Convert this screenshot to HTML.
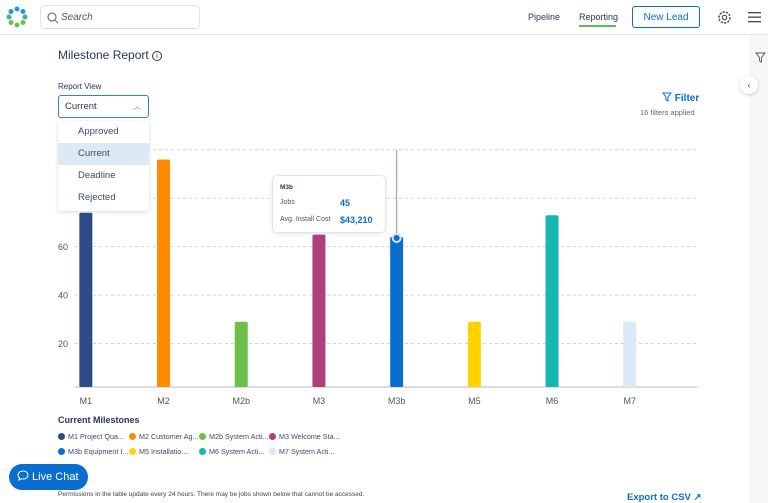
<!DOCTYPE html>
<html><head><meta charset="utf-8">
<style>
*{box-sizing:border-box;margin:0;padding:0}
body{width:768px;height:503px;overflow:hidden;background:#fff;font-family:"Liberation Sans",sans-serif;color:#2b3553;position:relative}
.abs{position:absolute}
.hdr{left:0;top:0;width:768px;height:35px;border-bottom:1px solid #e6e8ec;background:#fff}
.side{left:749px;top:35px;width:19px;height:468px;background:#f7f7f8}
</style></head><body>
<div class="abs hdr">
  <svg class="abs" style="left:6px;top:6px" width="22" height="22">
    <g>
      <circle cx="11" cy="3" r="2.5" fill="#1e9bd7"/><circle cx="17" cy="5.5" r="2.5" fill="#1e9bd7"/>
      <circle cx="19" cy="11" r="2.5" fill="#3fb38f"/><circle cx="17" cy="16.5" r="2.5" fill="#6cc04a"/>
      <circle cx="11" cy="19" r="2.5" fill="#6cc04a"/><circle cx="5" cy="16.5" r="2.5" fill="#6cc04a"/>
      <circle cx="3" cy="11" r="2.5" fill="#3fb38f"/><circle cx="5" cy="5.5" r="2.5" fill="#1e9bd7"/>
    </g>
  </svg>
  <div class="abs" style="left:40px;top:5px;width:160px;height:24px;border:1px solid #dfe2e6;border-radius:5px">
    <svg class="abs" style="left:6px;top:6px" width="12" height="12"><circle cx="5" cy="5" r="4" fill="none" stroke="#777" stroke-width="1.2"/><line x1="8" y1="8" x2="11" y2="11" stroke="#777" stroke-width="1.2"/></svg>
    <span class="abs" style="left:20px;top:6px;font-size:10px;color:#555;font-style:italic">Search</span>
  </div>
  <span class="abs" style="left:528px;top:12px;font-size:9px;color:#2b3553">Pipeline</span>
  <span class="abs" style="left:579px;top:12px;font-size:9px;color:#2b3553">Reporting</span>
  <div class="abs" style="left:579px;top:25px;width:37px;height:2px;background:#5cb85c"></div>
  <div class="abs" style="left:632px;top:6px;width:68px;height:22px;border:1.5px solid #0a6fcc;border-radius:3px;color:#0a6fcc;font-size:10px;display:flex;align-items:center;justify-content:center">New Lead</div>
  <svg class="abs" style="left:717px;top:10px" width="15" height="15"><circle cx="7.5" cy="7.5" r="5.5" fill="none" stroke="#444" stroke-width="1.4" stroke-dasharray="2.2 1.2"/><circle cx="7.5" cy="7.5" r="2.2" fill="none" stroke="#444" stroke-width="1.1"/></svg>
  <svg class="abs" style="left:748px;top:11px" width="13" height="12"><rect y="1" width="13" height="1.3" fill="#444"/><rect y="5.5" width="13" height="1.3" fill="#444"/><rect y="10" width="13" height="1.3" fill="#444"/></svg>
</div>
<div class="abs side"></div>
<svg class="abs" style="left:755px;top:52px" width="11" height="11"><path d="M1 1h9L6.5 5.5V10L4.5 9V5.5Z" fill="none" stroke="#555" stroke-width="0.9"/></svg>
<div class="abs" style="left:740px;top:76px;width:18px;height:18px;border-radius:50%;background:#fff;box-shadow:0 1px 3px rgba(0,0,0,.2);font-size:9px;text-align:center;line-height:18px;color:#555">‹</div>

<div class="abs" style="left:58px;top:48px;font-size:12px;color:#2b3553">Milestone Report <span style="display:inline-block;width:10px;height:10px;border:1px solid #2b3553;border-radius:50%;font-size:7px;text-align:center;line-height:9px;vertical-align:1px">i</span></div>
<div class="abs" style="left:58px;top:82px;font-size:8px;color:#2b3553">Report View</div>
<div class="abs" style="left:58px;top:95px;width:91px;height:23px;border:1px solid #3a80c9;border-radius:3px;font-size:9.5px;line-height:21px;padding-left:6px;color:#2b3553">Current<span class="abs" style="right:7px;top:0;font-size:8px;color:#888">︿</span></div>
<div class="abs" style="left:58px;top:121px;width:91px;height:90px;background:#fff;box-shadow:0 1px 4px rgba(0,0,0,.15);border-radius:3px;z-index:5">
  <div style="height:22px;line-height:22px;padding-left:20px;font-size:9.5px;color:#3d4a6b">Approved</div>
  <div style="height:22px;line-height:22px;padding-left:20px;font-size:9.5px;color:#3d4a6b;background:#dbeaf5">Current</div>
  <div style="height:22px;line-height:22px;padding-left:20px;font-size:9.5px;color:#3d4a6b">Deadline</div>
  <div style="height:22px;line-height:22px;padding-left:20px;font-size:9.5px;color:#3d4a6b">Rejected</div>
</div>
<div class="abs" style="left:662px;top:92px;font-size:10px;color:#0a6fcc;font-weight:bold"><svg width="10" height="10" style="vertical-align:-1px"><path d="M1 1h8L6 5v4L4 8V5Z" fill="none" stroke="#0a6fcc" stroke-width="1"/></svg> Filter</div>
<div class="abs" style="left:640px;top:108px;font-size:7.5px;color:#666">16 filters applied</div>

<svg id="chart" class="abs" style="left:0;top:0" width="768" height="420"></svg>

<div class="abs" style="left:272px;top:175px;width:114px;height:58px;background:#fff;border:1px solid #e2e4e8;border-radius:5px;box-shadow:0 1px 4px rgba(0,0,0,.1)">
  <div class="abs" style="left:7px;top:8px;font-size:6.5px;font-weight:bold">M3b</div>
  <div class="abs" style="left:7px;top:23px;font-size:7px;color:#555">Jobs</div>
  <div class="abs" style="left:67px;top:22px;font-size:9px;color:#0a6fcc;font-weight:bold">45</div>
  <div class="abs" style="left:7px;top:40px;font-size:7px;color:#555">Avg. Install Cost</div>
  <div class="abs" style="left:67px;top:39px;font-size:9px;color:#0a6fcc;font-weight:bold">$43,210</div>
</div>

<div class="abs" style="left:58px;top:415px;font-size:9px;font-weight:bold;color:#2b3553">Current Milestones</div>
<div id="legend" class="abs" style="left:58px;top:432px;width:300px"></div>

<div class="abs" style="left:58px;top:472px;font-size:11px;color:#2b3553">Jobs</div>
<div class="abs" style="left:9px;top:464px;width:79px;height:26px;border-radius:13px;background:#0a6fcc;color:#fff;font-size:11px;line-height:26px;padding-left:8px"><svg width="12" height="11" style="vertical-align:-1px"><path d="M6 1C3 1 1 3 1 5c0 1.2.6 2.2 1.5 2.9L2 10l2.5-1.3C5 8.9 5.5 9 6 9c3 0 5-1.8 5-4S9 1 6 1Z" fill="none" stroke="#fff" stroke-width="1"/></svg> Live Chat</div>
<div class="abs" style="left:58px;top:491px;font-size:6.5px;color:#444">Permissions in the table update every 24 hours. There may be jobs shown below that cannot be accessed.</div>
<div class="abs" style="left:627px;top:492px;font-size:9.5px;color:#0a6fcc;font-weight:bold">Export to CSV ↗</div>

<script>
const categories=["M1","M2","M2b","M3","M3b","M5","M6","M7"];
const jobs=[74,96,29,65,64,29,73,29];
const colors=["#2e4a87","#ff8a00","#6cc04a","#b0407a","#0a6fcc","#ffd200","#14b8b0","#d9e9f6"];
const yTicks=[20,40,60,80,100];
const legendLabels=["M1 Project Qua...","M2 Customer Ag...","M2b System Acti...","M3 Welcome Sta...","M3b Equipment I...","M5 Installatio...","M6 System Acti...","M7 System Acti..."];
const NS="http://www.w3.org/2000/svg";
const svg=document.getElementById('chart');
const x0=47,band=77.7,bw=13;
const y=v=>392-v*2.422;
const xc=i=>x0+band*(i+0.5);
function mk(t,a){const e=document.createElementNS(NS,t);for(const k in a)e.setAttribute(k,a[k]);svg.appendChild(e);return e;}
yTicks.forEach(t=>{
  const l=mk('line',{x1:75,x2:697,y1:y(t),y2:y(t),stroke:'#cfd2d6','stroke-dasharray':'3 3','stroke-width':1});
  
  
  if(t<80){const tx=mk('text',{x:68,y:y(t)+3.5,'font-size':9,fill:'#555','text-anchor':'end','font-family':'Liberation Sans'});tx.textContent=t;
  
  }
});
const ax=mk('line',{x1:75,x2:697,y1:387,y2:387,stroke:'#c8c8c8','stroke-width':1.2});


categories.forEach((c,i)=>{
  const r=mk('rect',{x:xc(i)-bw/2,y:y(jobs[i]),width:bw,height:387-y(jobs[i]),fill:colors[i],rx:1.5});
  
  
  const t=mk('text',{x:xc(i),y:404,'font-size':9,fill:'#555','text-anchor':'middle','font-family':'Liberation Sans'});t.textContent=c;
  
  
});
const hi=4;
const cl=mk('line',{x1:xc(hi),x2:xc(hi),y1:150,y2:y(jobs[hi]),stroke:'#8a93a6','stroke-width':1});


const dot=mk('circle',{cx:xc(hi),cy:y(jobs[hi])+1,r:4,fill:'#0a6fcc',stroke:'#cfe3f5','stroke-width':2});


const lg=document.getElementById('legend');
legendLabels.forEach((l,i)=>{
  const d=document.createElement('div');
  
  
  d.style.cssText='position:absolute;left:'+[0,71,141,211][i%4]+'px;top:'+(Math.floor(i/4)*15)+'px;font-size:7.2px;color:#3d4a6b;white-space:nowrap';
  d.innerHTML='<span style="display:inline-block;width:7px;height:7px;border-radius:50%;background:'+colors[i]+';vertical-align:-1px;margin-right:3px"></span>'+l;
  lg.appendChild(d);
});
</script>
</body></html>
